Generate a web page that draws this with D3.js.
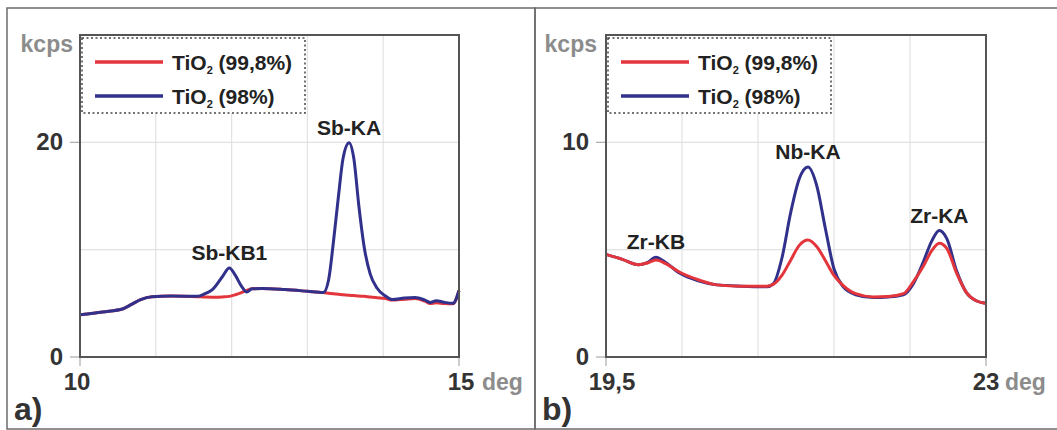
<!DOCTYPE html>
<meta charset="utf-8">
<script src="https://cdn.jsdelivr.net/npm/d3@7"></script>
<body style="margin:0;background:#fff">
<svg id="chart" width="1057" height="430"></svg>
<script>
// panel a) Sb lines, 10..15 deg
const degA = [10.00, 10.30, 10.57, 10.68, 10.80, 10.95, 11.20, 11.55, 11.65, 11.75, 11.88, 11.97, 12.05, 12.13, 12.20, 12.27, 12.40, 12.70, 13.00, 13.21, 13.28, 13.34, 13.41, 13.47, 13.55, 13.61, 13.68, 13.75, 13.83, 13.92, 14.03, 14.12, 14.28, 14.42, 14.55, 14.62, 14.70, 14.80, 14.92, 15.00];
const pureA = [3.93, 4.2, 4.5, 4.9, 5.35, 5.62, 5.68, 5.62, 5.58, 5.57, 5.6, 5.65, 5.8, 6.0, 6.2, 6.35, 6.38, 6.28, 6.12, 6.0, 5.95, 5.9, 5.85, 5.8, 5.75, 5.72, 5.68, 5.65, 5.58, 5.52, 5.45, 5.3, 5.38, 5.45, 5.2, 4.98, 5.05, 4.98, 4.95, 6.2];
const lowA = [3.93, 4.2, 4.5, 4.9, 5.35, 5.62, 5.68, 5.65, 5.9, 6.3, 7.5, 8.3, 7.6, 6.6, 6.05, 6.35, 6.38, 6.28, 6.12, 6.0, 7.2, 10.5, 15.0, 18.5, 19.97, 18.6, 14.0, 10.2, 7.7, 6.4, 5.68, 5.35, 5.5, 5.55, 5.3, 5.08, 5.25, 5.1, 5.0, 6.2];

// panel b) Zr / Nb lines, 19.5..23 deg
const degB = [19.50, 19.65, 19.80, 19.88, 19.96, 20.05, 20.18, 20.35, 20.52, 20.75, 20.98, 21.04, 21.12, 21.20, 21.28, 21.36, 21.44, 21.52, 21.60, 21.68, 21.80, 21.96, 22.10, 22.24, 22.33, 22.42, 22.50, 22.57, 22.64, 22.73, 22.82, 22.91, 23.00];
const pureB = [4.78, 4.55, 4.3, 4.38, 4.52, 4.35, 3.95, 3.6, 3.36, 3.3, 3.3, 3.38, 3.8, 4.5, 5.2, 5.45, 5.15, 4.5, 3.8, 3.35, 2.95, 2.8, 2.82, 2.95, 3.5, 4.2, 4.95, 5.3, 5.05, 3.9, 3.0, 2.62, 2.5];
const lowB = [4.78, 4.55, 4.3, 4.4, 4.65, 4.4, 3.9, 3.55, 3.36, 3.3, 3.27, 3.4, 4.6, 6.7, 8.3, 8.85, 8.0, 6.0, 4.1, 3.3, 2.9, 2.77, 2.8, 2.9, 3.4, 4.4, 5.4, 5.89, 5.5, 4.0, 3.0, 2.62, 2.5];

const seriesNames = ["99,8%", "98%"];
const colors = ["#e3363c", "#31318c"];

const peaksA = [{name: "Sb-KB1", deg: 11.97, val: 8.3}, {name: "Sb-KA", deg: 13.55, val: 19.97}];
const peaksB = [{name: "Zr-KB", deg: 19.96, val: 4.65}, {name: "Nb-KA", deg: 21.36, val: 8.85}, {name: "Zr-KA", deg: 22.57, val: 5.89}];

const svg = d3.select("#chart");
const font = "'Liberation Sans', Arial, sans-serif";

function drawPanel(p) {
    const g = svg.append("g");

    // outer panel frame
    g.append("rect")
        .attr("x", p.box[0]).attr("y", p.box[1])
        .attr("width", p.box[2]).attr("height", p.box[3])
        .attr("fill", "none").attr("stroke", "#6b6b6b").attr("stroke-width", 1.5);

    const x = d3.scaleLinear().domain(p.xDomain).range([p.left, p.right]);
    const y = d3.scaleLinear().domain([0, p.yMax]).range([357, 35]);

    // grid
    g.append("g").selectAll("line").data(d3.range(1, p.xDiv))
        .join("line")
        .attr("x1", i => x(p.xDomain[0] + i * (p.xDomain[1] - p.xDomain[0]) / p.xDiv))
        .attr("x2", i => x(p.xDomain[0] + i * (p.xDomain[1] - p.xDomain[0]) / p.xDiv))
        .attr("y1", y(0)).attr("y2", y(p.yMax))
        .attr("stroke", "#e2e2e2").attr("stroke-width", 1.2);
    g.append("g").selectAll("line").data(p.yGrid)
        .join("line")
        .attr("x1", x(p.xDomain[0])).attr("x2", x(p.xDomain[1]))
        .attr("y1", d => y(d)).attr("y2", d => y(d))
        .attr("stroke", "#e2e2e2").attr("stroke-width", 1.2);

    // tick marks
    g.append("g").selectAll("line").data(p.yTicks)
        .join("line")
        .attr("x1", p.left - 10).attr("x2", p.left)
        .attr("y1", d => y(d)).attr("y2", d => y(d))
        .attr("stroke", "#aaa").attr("stroke-width", 1.2);
    g.append("g").selectAll("line").data(p.xDomain)
        .join("line")
        .attr("x1", d => x(d)).attr("x2", d => x(d))
        .attr("y1", y(0)).attr("y2", y(0) + 9)
        .attr("stroke", "#aaa").attr("stroke-width", 1.2);

    // tick labels
    g.append("g").selectAll("text").data(p.yTicks)
        .join("text")
        .attr("x", p.left - 17).attr("y", d => y(d) + 8)
        .attr("text-anchor", "end")
        .style("font", "bold 24px " + font).attr("fill", "#333")
        .text(d => d);
    g.append("g").selectAll("text").data(p.xDomain)
        .join("text")
        .attr("x", (d, i) => x(d) + p.xLabelShift[i]).attr("y", y(0) + 33)
        .attr("text-anchor", "middle")
        .style("font", "bold 24px " + font).attr("fill", "#333")
        .text((d, i) => p.xLabels[i]);

    g.append("text").attr("x", p.left - p.kcpsGap).attr("y", 52)
        .attr("text-anchor", "end")
        .style("font", "bold 23px " + font).attr("fill", "#8c8c8c")
        .text("kcps");
    g.append("text").attr("x", p.right + p.degGap).attr("y", y(0) + 33)
        .style("font", "bold 23px " + font).attr("fill", "#8c8c8c")
        .text("deg");
    g.append("text").attr("x", p.box[0] + 7).attr("y", 420)
        .style("font", "bold 32px " + font).attr("fill", "#333")
        .text(p.tag);

    // curves
    const line = d3.line().x(d => x(d[0])).y(d => y(d[1])).curve(d3.curveMonotoneX);
    const curves = [
        {vals: p.pure, color: colors[0]},
        {vals: p.low, color: colors[1]}
    ];
    if (p.redOnTop) curves.reverse();
    curves.forEach(c => {
        g.append("path")
            .datum(p.deg.map((d, i) => [d, c.vals[i]]))
            .attr("d", line)
            .attr("fill", "none").attr("stroke", c.color)
            .attr("stroke-width", 3).attr("stroke-linejoin", "round");
    });

    // plot frame
    g.append("rect")
        .attr("x", p.left).attr("y", 35)
        .attr("width", p.right - p.left).attr("height", 322)
        .attr("fill", "none").attr("stroke", "#555").attr("stroke-width", 2);

    // peak names
    g.append("g").selectAll("text").data(p.peaks)
        .join("text")
        .attr("x", d => x(d.deg)).attr("y", d => y(d.val) - 8)
        .attr("text-anchor", "middle")
        .style("font", "bold 21px " + font).attr("fill", "#222")
        .text(d => d.name);

    // legend
    const lx = p.left + 2;
    const leg = g.append("g");
    leg.append("rect")
        .attr("x", lx).attr("y", 38).attr("width", 223).attr("height", 75)
        .attr("fill", "#fff").attr("stroke", "#444")
        .attr("stroke-width", 1.5).attr("stroke-dasharray", "2,2.5");
    seriesNames.forEach((s, i) => {
        const yy = 62 + i * 34;
        leg.append("line")
            .attr("x1", lx + 13).attr("x2", lx + 81)
            .attr("y1", yy).attr("y2", yy)
            .attr("stroke", colors[i]).attr("stroke-width", 3.5);
        const t = leg.append("text").attr("x", lx + 90).attr("y", yy + 8)
            .style("font", "bold 21px " + font).attr("fill", "#222");
        t.append("tspan").text("TiO");
        t.append("tspan").attr("dy", 4).style("font-size", "11px").text("2");
        t.append("tspan").attr("dy", -4).text(" (" + s + ")");
    });
}

drawPanel({
    box: [7, 8, 528, 421], left: 80, right: 459,
    xDomain: [10, 15], xDiv: 5, xLabels: ["10", "15"], xLabelShift: [-3, 2],
    yMax: 30, yGrid: [10, 20], yTicks: [0, 20],
    kcpsGap: 7, degGap: 23,
    deg: degA, pure: pureA, low: lowA, redOnTop: false,
    peaks: peaksA, tag: "a)"
});
drawPanel({
    box: [535, 8, 530, 421], left: 606, right: 986,
    xDomain: [19.5, 23], xDiv: 5, xLabels: ["19,5", "23"], xLabelShift: [6, 0],
    yMax: 15, yGrid: [5, 10], yTicks: [0, 10],
    kcpsGap: 9, degGap: 19,
    deg: degB, pure: pureB, low: lowB, redOnTop: true,
    peaks: peaksB, tag: "b)"
});
</script>
</body>
